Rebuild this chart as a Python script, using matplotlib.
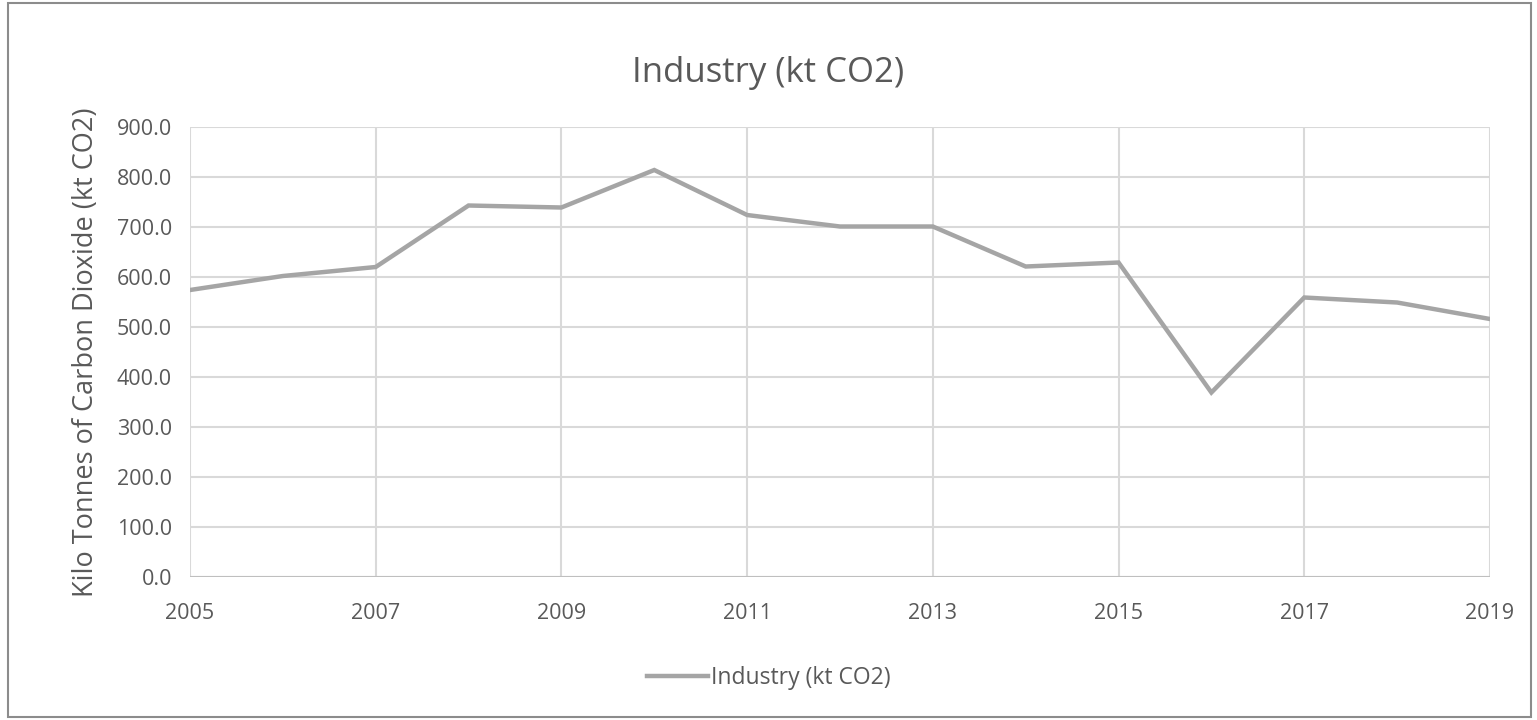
import matplotlib.pyplot as plt
from matplotlib.patches import Rectangle

plt.rcParams['font.family'] = ['Open Sans', 'DejaVu Sans']

years = [2005, 2006, 2007, 2008, 2009, 2010, 2011, 2012, 2013, 2014, 2015, 2016, 2017, 2018, 2019]
industry_kt = [574, 602, 620, 743, 739, 814, 724, 701, 701, 621, 629, 369, 559, 549, 516]
yticks = [0, 100, 200, 300, 400, 500, 600, 700, 800, 900]
xticks = [2005, 2007, 2009, 2011, 2013, 2015, 2017, 2019]

text_col = '#595959'
grid_col = '#d9d9d9'

fig = plt.figure(figsize=(15.37, 7.2), dpi=100)
ax = fig.add_axes([0.1236, 0.1986, 0.9694 - 0.1236, 0.625])

ax.plot(years, industry_kt, color='#a5a5a5', lw=3.2, label='Industry (kt CO2)',
        solid_joinstyle='miter', zorder=3)

ax.set_xlim(2005, 2019)
ax.set_ylim(0, 900)
ax.set_xticks(xticks)
ax.set_yticks(yticks)
ax.set_yticklabels([f'{v:.1f}' for v in yticks])
ax.grid(True, color=grid_col, lw=1.5)
ax.tick_params(length=0, labelsize=15.5, colors=text_col)
ax.tick_params(axis='x', pad=19)
ax.tick_params(axis='y', pad=13)
for s in ax.spines.values():
    s.set_visible(False)
ax.axhline(0, color='#bfbfbf', lw=1.5, zorder=2)

ax.set_ylabel('Kilo Tonnes of Carbon Dioxide (kt CO2)', fontsize=19.5, color=text_col, labelpad=12)
fig.text(0.5, 0.898, 'Industry (kt CO2)', ha='center', va='center', fontsize=25, color=text_col)

leg = fig.legend(loc='center', bbox_to_anchor=(0.5, 0.058), frameon=False, fontsize=16.5,
                 handlelength=2.7, handletextpad=0.1)
for t in leg.get_texts():
    t.set_color(text_col)

fig.patches.append(Rectangle((0.005, 0.004), 0.991, 0.992, transform=fig.transFigure,
                             fill=False, edgecolor='#8c8c8c', lw=1.5))

fig.savefig('out.png', dpi=100)
